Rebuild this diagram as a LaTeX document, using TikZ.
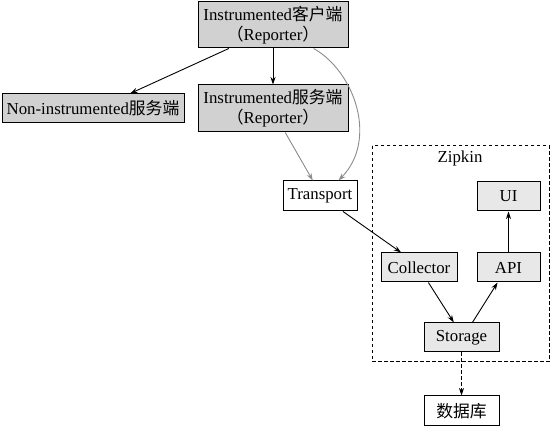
\documentclass[tikz,border=0pt]{standalone}
\usepackage{fontspec}
\setmainfont{Liberation Serif}
\newfontfamily\cjk{Noto Sans CJK SC}
\usetikzlibrary{arrows.meta}

\begin{document}
\begin{tikzpicture}[x=1pt,y=1pt,
    font=\fontsize{16.8}{20}\selectfont,
    box/.style={draw,line width=1pt,inner sep=0pt,align=center},
    client/.style={box,fill=black!18},
    zbox/.style={box,fill=black!9},
    arr/.style={line width=0.9pt,-{Stealth[length=7.5pt,width=5pt]}},
    grayarr/.style={arr,draw=black!45}]
      \useasboundingbox (0,0) rectangle (550,-427);
      % Clients
      \node[client,minimum width=150,minimum height=46] (client) at (273,-25)
        {Instrumented{\cjk 客户端}\\{\cjk （}Reporter{\cjk ）}};
      \node[client,minimum width=182,minimum height=29] (noninst) at (93,-108.5)
        {Non-instrumented{\cjk 服务端}};
      \node[client,minimum width=150,minimum height=47] (server) at (273,-108.5)
        {Instrumented{\cjk 服务端}\\{\cjk （}Reporter{\cjk ）}};
      \node[box,minimum width=74,minimum height=30] (transport) at (320,-196) {Transport};
      % Zipkin
      \draw[line width=1pt,dash pattern=on 3.5pt off 2.5pt] (372,-146) rectangle (549,-362);
      \node (zipkin) at (460,-158) {Zipkin};
      \node[zbox,minimum width=63,minimum height=29] (ui) at (508.5,-196.5) {UI};
      \node[zbox,minimum width=76,minimum height=29] (collector) at (419,-267.5) {Collector};
      \node[zbox,minimum width=63,minimum height=29] (api) at (508.5,-267.5) {API};
      \node[zbox,minimum width=75,minimum height=29] (storage) at (461.5,-337.5) {Storage};
      \node[box,minimum width=75,minimum height=30] (db) at (461.5,-411) {\cjk 数据库};
      % Arrows
      \draw[arr] (client.208) -- (noninst.22);
      \draw[arr] (client) -- (server);
      \draw[grayarr] (server.-63) -- (transport.115);
      \draw[grayarr] (client.-30) .. controls (355,-72) and (378,-140) .. (transport.40);
      \draw[arr] (transport.-34) -- (collector.140);
      \draw[arr] (collector.-58) -- (storage.117);
      \draw[arr] (storage.54) -- (api.234);
      \draw[arr] (api) -- (ui);
      \draw[arr,dash pattern=on 3.5pt off 2.5pt] (storage) -- (db);
    \end{tikzpicture}
\end{document}
